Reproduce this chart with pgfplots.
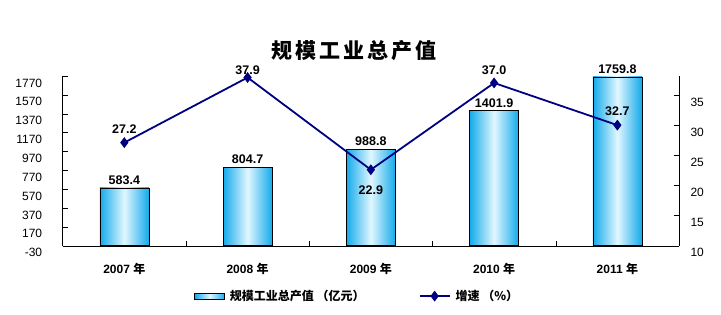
\documentclass[border=0pt]{standalone}
\usepackage{fontspec}
\setmainfont{Liberation Sans}
\newfontfamily\cjk{Noto Sans CJK SC}
\newfontfamily\cjktitle{Noto Sans CJK SC}[LetterSpace=15]
\usepackage{pgfplots}
\usepackage{pgfplotstable}
\pgfplotsset{compat=1.18}
\definecolor{edge}{RGB}{20,170,235}
\definecolor{mid}{RGB}{225,247,255}
\definecolor{navyline}{RGB}{0,0,128}
\pgfplotsset{
  mylinelegend/.style={legend image code/.code={\draw[##1, mark repeat=2, mark phase=2] plot coordinates {(0pt,0pt) (15pt,0pt) (30pt,0pt)};}},
  mybarlegend/.style={legend image code/.code={\draw[draw=black, line width=0.5pt, left color=edge, right color=edge, middle color=mid] (0pt,-3pt) rectangle (30pt,3pt);}},
  mybar/.style={ybar, bar width=49pt, bar shift=0pt, draw=black, line width=0.5pt,
    left color=edge, right color=edge, middle color=mid,
    nodes near coords, point meta=explicit symbolic,
    nodes near coords style={font=\bfseries\fontsize{12.5}{12.5}\selectfont, text=black}},
}

\pgfplotstableread{
x v lab dy
0 27.1 27.2 13
1 37.9 37.9 7.5
2 22.6 22.9 -20
3 37.0 37.0 13
4 30.0 32.7 14
}\rate

\begin{document}
\begin{tikzpicture}
\useasboundingbox (0,0) rectangle (721pt,314pt);
\node[font=\cjktitle\bfseries\fontsize{21}{21}\selectfont] at (354pt,263pt) {规模工业总产值};
\begin{axis}[
  at={(62.7pt,68.3pt)}, anchor=south west,
  scale only axis, width=616.3pt, height=169.7pt,
  xmin=-0.5, xmax=4.5, ymin=-30, ymax=1770,
  y coord trafo/.code={\pgfmathparse{#1+30}},
  y coord inv trafo/.code={\pgfmathparse{#1-30}},
  axis x line*=bottom, axis y line*=left,
  axis line style={-, black},
  tick align=inside,
  major tick length=5pt, minor tick length=5pt,
  ytick={-30,170,370,570,770,970,1170,1370,1570,1770},
  yticklabels={-30,170,370,570,770,970,1170,1370,1570,1770},
  yticklabel style={font=\fontsize{12}{12}\selectfont, xshift=-17pt, yshift=-7pt},
  xtick={0,1,2,3,4},
  xticklabels={{\bfseries 2007 {\cjk\bfseries 年}},{\bfseries 2008 {\cjk\bfseries 年}},{\bfseries 2009 {\cjk\bfseries 年}},{\bfseries 2010 {\cjk\bfseries 年}},{\bfseries 2011 {\cjk\bfseries 年}}},
  xticklabel style={font=\fontsize{12}{12}\selectfont, yshift=-13.5pt},
  major x tick style={draw=none},
  minor xtick={0.5,1.5,2.5,3.5},
  tick style={black},
  clip=false,
]
\addplot[mybar] coordinates {(0,583.4) [583.4]};
\addplot[mybar] coordinates {(1,804.7) [804.7]};
\addplot[mybar] coordinates {(2,988.8) [988.8]};
\addplot[mybar] coordinates {(3,1401.9) [1401.9]};
\addplot[mybar] coordinates {(4,1759.8) [1759.8]};
\end{axis}
\begin{axis}[
  at={(62.7pt,68.3pt)}, anchor=south west,
  scale only axis, width=616.3pt, height=169.7pt,
  xmin=-0.5, xmax=4.5, ymin=10, ymax=38.15,
  axis x line=none, axis y line*=right,
  axis line style={-, black},
  tick align=inside, major tick length=5pt,
  ytick={10,15,20,25,30,35},
  /pgf/number format/assume math mode=true,
  yticklabel style={font=\fontsize{12}{12}\selectfont, xshift=8pt, yshift=-7pt},
  tick style={black},
  clip=false,
  legend style={at={(0.478,-0.297)}, anchor=center, draw=none, fill=none,
    font=\cjk\bfseries\fontsize{12}{12}\selectfont,
    /tikz/every even column/.append style={column sep=52pt},
    /tikz/every odd column/.append style={column sep=3pt}},
  legend columns=2,
]
\addlegendimage{mybarlegend}
\addlegendentry{规模工业总产值 （亿元）}
\addlegendimage{navyline, line width=1.8pt, mark=diamond*, mark size=4pt, mylinelegend}
\addlegendentry{增速 （\%）}
\addplot[navyline, line width=1.8pt, mark=diamond*, mark size=4pt, forget plot,
  nodes near coords, point meta=explicit symbolic,
  visualization depends on={\thisrow{dy} \as \dy},
  nodes near coords style={anchor=center, yshift=\dy pt, font=\bfseries\fontsize{12.5}{12.5}\selectfont, text=black}]
  table[x=x, y=v, meta=lab]{\rate};
\end{axis}
\end{tikzpicture}
\end{document}
